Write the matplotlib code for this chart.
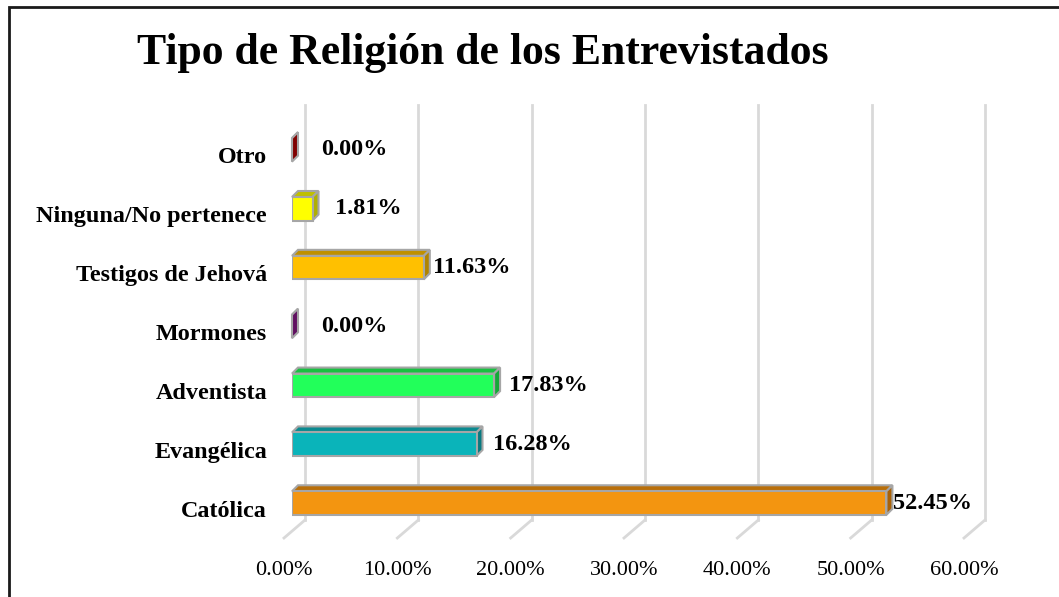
import matplotlib
matplotlib.use("Agg")
import matplotlib.pyplot as plt
from matplotlib.patches import Polygon, Rectangle
from matplotlib.lines import Line2D
from matplotlib.transforms import ScaledTranslation, IdentityTransform
import numpy as np

categories = ["Católica", "Evangélica", "Adventista", "Mormones",
              "Testigos de Jehová", "Ninguna/No pertenece", "Otro"]
values = [52.45, 16.28, 17.83, 0.00, 11.63, 1.81, 0.00]
value_labels = ["52.45%", "16.28%", "17.83%", "0.00%", "11.63%", "1.81%", "0.00%"]
face_colors = ["#F39510", "#0AB4BA", "#22FF5A", "#A0209E", "#FFC000", "#FFFF00", "#C00000"]
top_colors = ["#B96F0A", "#0A8A90", "#18C040", "#701570", "#C09000", "#C0C000", "#900000"]
side_colors = ["#A86208", "#087A80", "#15A838", "#601060", "#B08400", "#B0B000", "#800000"]
xticks = [0, 10, 20, 30, 40, 50, 60]
xtick_labels = ["0.00%", "10.00%", "20.00%", "30.00%", "40.00%", "50.00%", "60.00%"]
title = "Tipo de Religión de los Entrevistados"

# style: gap (px) between bar end and its value label
label_pad_px = [7, 16, 15, 29, 9, 22, 29]

W, H = 1059, 597
DPI = 100
fig = plt.figure(figsize=(W / DPI, H / DPI), dpi=DPI)
fig.patch.set_facecolor("white")

# axes box in pixels (bar front plane)
ax_left, ax_right = 292, 972
ax_top, ax_bottom = 116, 531
ax = fig.add_axes([ax_left / W, (H - ax_bottom) / H, (ax_right - ax_left) / W,
                   (ax_bottom - ax_top) / H])
ax.set_xlim(0, 60)
ax.set_ylim(-0.475, 6.576)
ax.axis("off")

serif = ["Liberation Serif", "DejaVu Serif"]
ident = IdentityTransform()

def px(x, y):
    return ax.transData.transform((x, y))

# gridlines: back wall + floor diagonals
back = np.array([13, 11])   # +x right, +y up (display)
front_floor = np.array([-8, -7])
y0, y1 = ax.get_ylim()
for t in xticks:
    pb = px(t, y0) + back
    pt = px(t, y1) + back
    pf = px(t, y0) + front_floor
    ax.add_line(Line2D([pb[0], pt[0]], [pb[1], pt[1]], transform=ident,
                       color="#D9D9D9", lw=2, zorder=1, clip_on=False))
    ax.add_line(Line2D([pb[0], pf[0]], [pb[1], pf[1]], transform=ident,
                       color="#D9D9D9", lw=2, zorder=1, clip_on=False))

# bars (3D-look)
h = 0.40
depth = np.array([6, 6])
edge = "#A6A6A6"
for i, v in enumerate(values):
    tr = px(v, i + h / 2)
    br = px(v, i - h / 2)
    tl = px(0, i + h / 2)
    top = Polygon([tl, tr, tr + depth, tl + depth], closed=True, transform=ident,
                  facecolor=top_colors[i], edgecolor=edge, lw=1.5, zorder=3, clip_on=False)
    side = Polygon([br, tr, tr + depth, br + depth], closed=True, transform=ident,
                   facecolor=side_colors[i], edgecolor=edge, lw=1.5, zorder=3, clip_on=False)
    ax.add_patch(top)
    ax.add_patch(side)
    if v > 0:
        ax.barh(i, v, height=h, left=0, color=face_colors[i], edgecolor=edge,
                linewidth=1.5, zorder=4)
    off = ScaledTranslation(label_pad_px[i] / DPI, 0, fig.dpi_scale_trans)
    ax.text(v, i, value_labels[i], transform=ax.transData + off, ha="left", va="center",
            fontsize=17.5, fontweight="bold", family=serif, zorder=5, clip_on=False)

# category labels
for i, c in enumerate(categories):
    off = ScaledTranslation(-25 / DPI, -8 / DPI, fig.dpi_scale_trans)
    ax.text(0, i, c, transform=ax.transData + off, ha="right", va="center",
            fontsize=17.4, fontweight="bold", family=serif, clip_on=False)

# x tick labels
for t, lab in zip(xticks, xtick_labels):
    off = ScaledTranslation(-8 / DPI, 0, fig.dpi_scale_trans)
    ax.text(t, -0.094, lab, transform=ax.get_xaxis_transform() + off, ha="center",
            va="center", fontsize=16, family=serif, clip_on=False)

# title
fig.text(483 / W, 1 - 53 / H, title, ha="center", va="center", fontsize=31.5,
         fontweight="bold", family=serif)

# chart border (top and left visible, right/bottom cropped)
fig.add_artist(Rectangle((8.5 / W, -0.05), 1.2, 1 - 6.5 / H + 0.05, transform=fig.transFigure,
                         fill=False, edgecolor="#1A1A1A", lw=2, zorder=10))

fig.savefig("out.png", dpi=DPI)
